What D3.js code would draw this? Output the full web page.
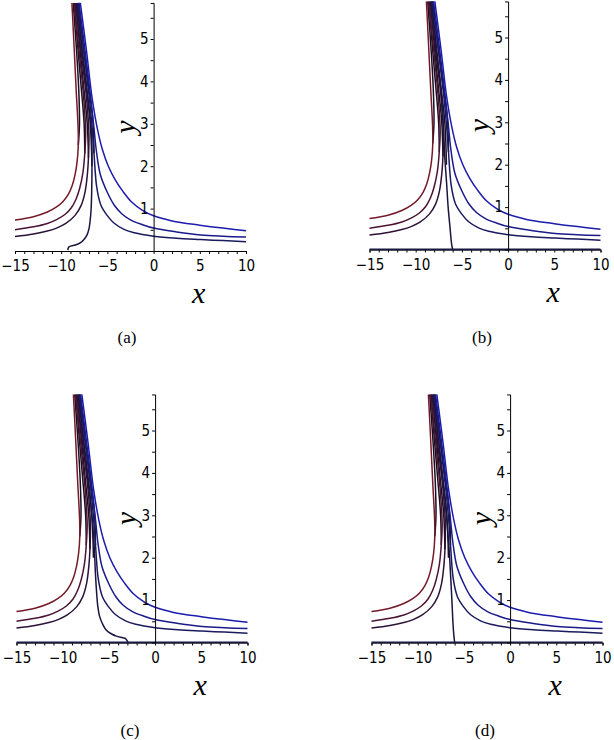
<!DOCTYPE html>
<html><head><meta charset="utf-8">
<script src="https://cdn.jsdelivr.net/npm/d3@7"></script>
<style>
html,body{margin:0;padding:0;background:#fff;}
svg{display:block;}
</style></head>
<body>
<script>
// ---- data ----
const panelLabels = ["(a)", "(b)", "(c)", "(d)"];
const xTicks = [-15, -10, -5, 0, 5, 10];
const yTicks = [1, 2, 3, 4, 5];
const xDomain = [-15, 10];
const yDomain = [0, 5.85];

// left branches (shared by all panels)
const curveL1 = [[-15,0.73],[-13,0.81],[-11.5,0.92],[-10.5,1.04],[-9.8,1.17],[-9.2,1.35],[-8.8,1.55],[-8.5,1.8],[-8.28,2.1],[-8.15,2.5],[-8.17,2.9],[-8.38,3.8],[-8.6,4.8],[-8.84,5.85]];
const curveL2 = [[-15,0.5],[-13,0.57],[-11.5,0.65],[-10.5,0.74],[-9.6,0.86],[-8.9,1.02],[-8.4,1.22],[-8.0,1.48],[-7.65,1.85],[-7.45,2.3],[-7.35,2.8],[-7.6,3.7],[-8.05,4.7],[-8.6,5.85]];
const curveL3 = [[-15,0.34],[-13,0.4],[-11.5,0.47],[-10.5,0.54],[-9.5,0.65],[-8.5,0.84],[-7.85,1.07],[-7.42,1.39],[-7.17,1.8],[-7.05,2.2],[-7.0,2.8],[-7.3,3.7],[-7.85,4.7],[-8.45,5.85]];
// right branches
const curveR3 = [[-8.2,5.85],[-7.55,4.7],[-6.95,3.6],[-6.65,2.9],[-6.45,2.3],[-6.15,1.5],[-5.7,1.08],[-5.03,0.84],[-4.3,0.66],[-3.2,0.51],[-2.1,0.43],[0,0.35],[2.5,0.3],[5.1,0.27],[7.5,0.245],[10,0.22]];
const curveR2 = [[-8.07,5.85],[-7.4,4.7],[-6.8,3.6],[-6.45,2.9],[-6.2,2.37],[-5.76,1.8],[-5.0,1.38],[-4.25,1.08],[-3.45,0.88],[-2.45,0.73],[-1.2,0.62],[0,0.54],[2.5,0.45],[5.1,0.38],[7.5,0.35],[10,0.33]];
const curveR1 = [[-7.93,5.85],[-7.25,4.7],[-6.65,3.6],[-6.1,2.9],[-5.55,2.4],[-4.9,2.0],[-4.15,1.68],[-3.3,1.4],[-2.35,1.15],[-1.2,0.96],[0,0.83],[2,0.71],[5,0.61],[7.5,0.54],[10,0.48]];
// dense contours inside the upper bundle
const bundle1 = [[-8.15,2.5],[-8.02,3.0],[-8.1,3.8],[-8.36,4.8],[-8.7,5.85]];
const bundle2 = [[-7.45,2.3],[-7.52,3.0],[-7.85,3.9],[-8.2,4.8],[-8.55,5.85]];
const bundle3 = [[-7.05,2.2],[-7.18,3.0],[-7.58,3.9],[-7.98,4.8],[-8.4,5.85]];
const bundle4 = [[-6.67,2.0],[-6.85,3.0],[-7.3,3.9],[-7.78,4.8],[-8.27,5.85]];
const bundle5 = [[-6.45,2.3],[-6.58,3.1],[-7.05,3.9],[-7.58,4.8],[-8.14,5.85]];
// steep branch per panel
const steepA = [[-9.28,0.02],[-9.2,0.09],[-8.9,0.12],[-8.48,0.14],[-7.9,0.2],[-7.58,0.26],[-7.2,0.38],[-7.0,0.52],[-6.85,0.75],[-6.77,0.96],[-6.7,1.4],[-6.67,2.0],[-6.68,2.5],[-6.75,2.9],[-7.1,3.6],[-7.7,4.7],[-8.3,5.85]];
const steepB = [[-6.0,0.0],[-6.12,0.14],[-6.3,0.55],[-6.49,1.0],[-6.66,1.58],[-6.85,2.17],[-6.98,2.8],[-7.2,3.6],[-7.75,4.7],[-8.3,5.85]];
const steepC = [[-2.94,0.0],[-3.0,0.03],[-3.2,0.09],[-3.5,0.11],[-4.19,0.15],[-4.7,0.2],[-5.27,0.29],[-5.6,0.4],[-6.0,0.61],[-6.2,0.85],[-6.35,1.24],[-6.45,1.6],[-6.6,2.3],[-6.8,2.9],[-7.1,3.6],[-7.7,4.7],[-8.3,5.85]];
const steepD = [[-6.0,0.0],[-6.08,0.15],[-6.18,0.45],[-6.3,1.0],[-6.42,1.5],[-6.6,2.2],[-6.85,2.9],[-7.15,3.6],[-7.7,4.7],[-8.3,5.85]];
const baseLine = [[-15,0],[10,0]];

const curveColors = {L1:"#751a2a", L2:"#4a1432", L3:"#2c1238", S:"#1c1440", B:"#1a0e22", R3:"#1a1a5e", R2:"#1a1a8a", R1:"#1c1cae", base:"#1a1a40"};

// ---- layout ----
const W = 614, H = 740;
const panels = [
  {x0:15,   y0:251,   steep:steepA, base:false, label:panelLabels[0], lx:127, ly:343},
  {x0:369.5,y0:249.5, steep:steepB, base:true,  label:panelLabels[1], lx:482, ly:343},
  {x0:16.5, y0:642.5, steep:steepC, base:true,  label:panelLabels[2], lx:130, ly:736},
  {x0:371.5,y0:642.5, steep:steepD, base:true,  label:panelLabels[3], lx:485, ly:736}
];
const pw = 231, pxPerY = 42.4;
const tickFont = "'DejaVu Sans Condensed','DejaVu Sans',sans-serif";
const serif = "'Liberation Serif','Times New Roman',serif";

const svg = d3.select("body").append("svg").attr("width", W).attr("height", H);

panels.forEach(p => {
  const x = d3.scaleLinear().domain(xDomain).range([p.x0, p.x0 + pw]);
  const y = d3.scaleLinear().domain(yDomain).range([p.y0, p.y0 - pxPerY * yDomain[1]]);
  const g = svg.append("g");
  const line = d3.line().x(d => x(d[0])).y(d => y(d[1])).curve(d3.curveCatmullRom.alpha(0.5));

  // curves
  const series = [
    {d:bundle1, c:curveColors.B}, {d:bundle2, c:curveColors.B}, {d:bundle3, c:curveColors.B},
    {d:bundle4, c:curveColors.B}, {d:bundle5, c:curveColors.B},
    {d:curveL1, c:curveColors.L1}, {d:curveL2, c:curveColors.L2}, {d:curveL3, c:curveColors.L3},
    {d:p.steep, c:curveColors.S},
    {d:curveR3, c:curveColors.R3}, {d:curveR2, c:curveColors.R2}, {d:curveR1, c:curveColors.R1}
  ];
  series.forEach(s => {
    g.append("path").attr("d", line(s.d)).attr("fill", "none")
      .attr("stroke", s.c).attr("stroke-width", 1.5).attr("stroke-linejoin", "round");
  });

  // x axis
  const xAxis = d3.axisBottom(x).tickValues(d3.range(-15, 11, 1)).tickSize(3)
    .tickFormat(d => xTicks.includes(d) ? (d < 0 ? "\u2212" + Math.abs(d) : d) : "");
  const gx = g.append("g").attr("transform", `translate(0,${p.y0})`).call(xAxis);
  gx.select(".domain").attr("stroke", "#000").attr("stroke-width", 1);
  gx.selectAll(".tick line").attr("stroke", "#000");
  gx.selectAll(".tick text").attr("font-family", tickFont)
    .attr("font-size", 15).attr("fill", "#000").attr("dy", "0.95em");
  if (p.base) {
    g.append("path").attr("d", line(baseLine)).attr("fill", "none")
      .attr("stroke", curveColors.base).attr("stroke-width", 2.2);
  }

  // y axis at x=0
  const yAxis = d3.axisLeft(y).tickValues(d3.range(0.5, 5.6, 0.5)).tickSize(3)
    .tickFormat(d => yTicks.includes(d) ? d : "");
  const gy = g.append("g").attr("transform", `translate(${x(0)},0)`).call(yAxis);
  gy.select(".domain").attr("stroke", "#000").attr("stroke-width", 1);
  gy.selectAll(".tick line").attr("stroke", "#000");
  gy.selectAll(".tick text").attr("font-family", tickFont)
    .attr("font-size", 15).attr("fill", "#000").attr("x", -5);

  // axis labels
  g.append("text").attr("x", x(0) + 45).attr("y", p.y0 + 52)
    .attr("text-anchor", "middle").attr("font-family", serif)
    .attr("font-style", "italic").attr("font-size", 30).text("x");
  g.append("text").attr("transform", `translate(${x(0) - 22},${p.y0 - 124}) rotate(-90)`)
    .attr("text-anchor", "middle").attr("font-family", serif)
    .attr("font-style", "italic").attr("font-size", 30).attr("dy", "0.1em").text("y");

  // caption
  svg.append("text").attr("x", p.lx).attr("y", p.ly).attr("text-anchor", "middle")
    .attr("font-family", serif).attr("font-size", 17).text(p.label);
});
</script>
</body></html>
